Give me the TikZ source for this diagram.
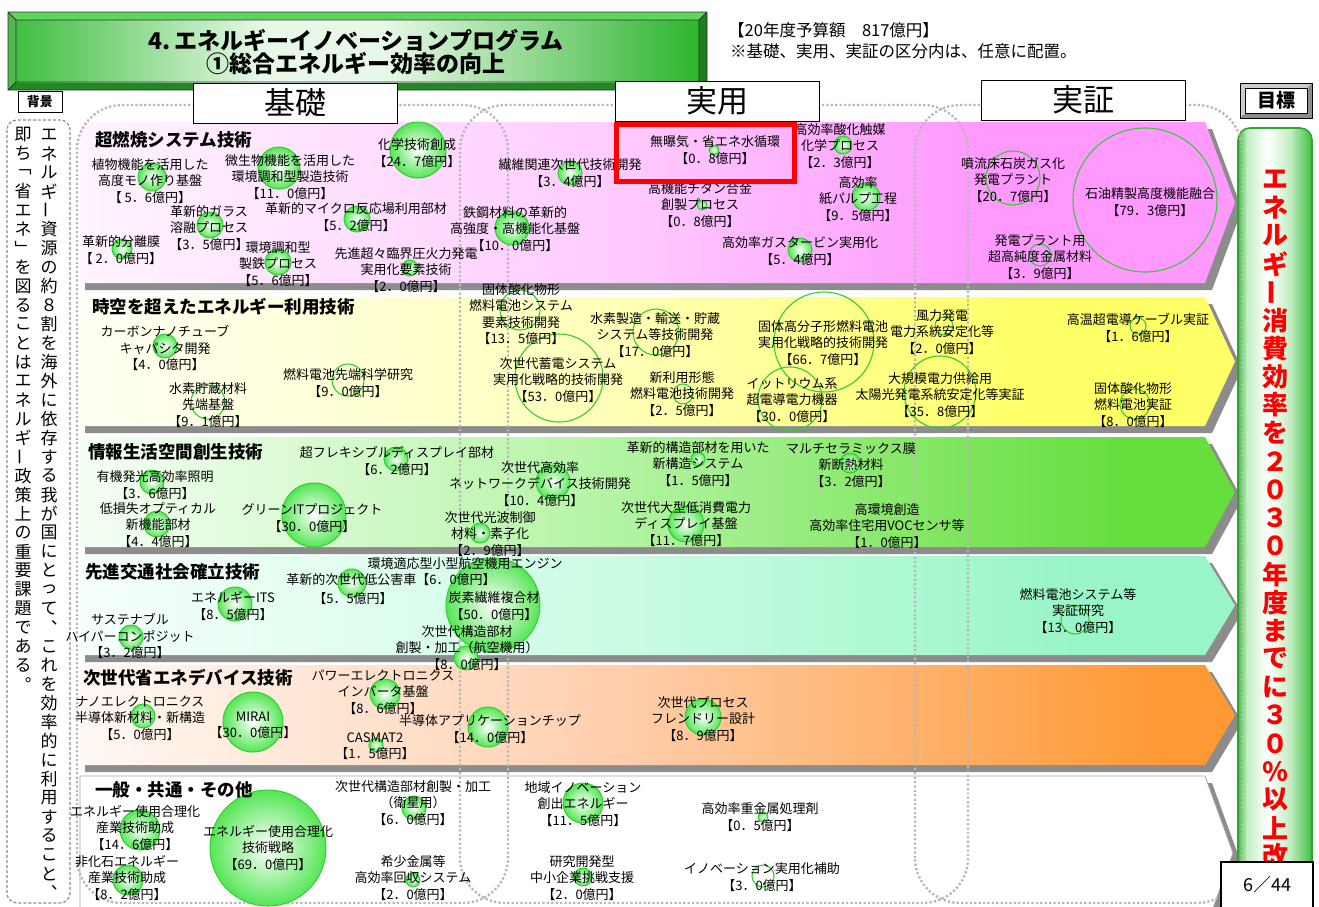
\documentclass[tikz,border=0pt]{standalone}
\usepackage{fontspec}
\setmainfont{Noto Sans CJK JP}
\definecolor{pk0}{HTML}{FFF4FF}\definecolor{pk1}{HTML}{FFCCFF}\definecolor{pk2}{HTML}{FF99FF}
\definecolor{ye0}{HTML}{FFFFF4}\definecolor{ye1}{HTML}{FFFFB8}\definecolor{ye2}{HTML}{FFFF66}
\definecolor{gr0}{HTML}{F4FFF4}\definecolor{gr1}{HTML}{B4F4A4}\definecolor{gr2}{HTML}{66DE3E}
\definecolor{mn0}{HTML}{F6FFFB}\definecolor{mn1}{HTML}{CCFCE4}\definecolor{mn2}{HTML}{99F5C8}
\definecolor{or0}{HTML}{FFF8F4}\definecolor{or1}{HTML}{FFCFAE}\definecolor{or2}{HTML}{FF9933}
\definecolor{tg1}{HTML}{3FBF3F}\definecolor{tg2}{HTML}{E8F8E8}\definecolor{tg3}{HTML}{2DB52D}
\definecolor{tgT}{HTML}{5ED65E}\definecolor{tgD}{HTML}{1E7E1E}
\definecolor{gl1}{HTML}{3CC03C}\definecolor{gl2}{HTML}{C4EEC4}
\definecolor{bubF}{HTML}{55E655}\definecolor{bubD}{HTML}{33CC33}
\pgfdeclarehorizontalshading{pinkS}{100bp}{color(0bp)=(pk0); color(25bp)=(pk0); color(48bp)=(pk1); color(64bp)=(pk2); color(100bp)=(pk2)}
\pgfdeclarehorizontalshading{yelS}{100bp}{color(0bp)=(ye0); color(25bp)=(ye0); color(48bp)=(ye1); color(66bp)=(ye2); color(100bp)=(ye2)}
\pgfdeclarehorizontalshading{grnS}{100bp}{color(0bp)=(gr0); color(25bp)=(gr0); color(48bp)=(gr1); color(70bp)=(gr2); color(100bp)=(gr2)}
\pgfdeclarehorizontalshading{mntS}{100bp}{color(0bp)=(mn0); color(25bp)=(mn0); color(48bp)=(mn1); color(68bp)=(mn2); color(100bp)=(mn2)}
\pgfdeclarehorizontalshading{orgS}{100bp}{color(0bp)=(or0); color(25bp)=(or0); color(48bp)=(or1); color(72bp)=(or2); color(100bp)=(or2)}
\pgfdeclarehorizontalshading{titleS}{100bp}{color(0bp)=(tg1); color(25bp)=(tg1); color(43bp)=(tg2); color(52bp)=(tg2); color(75bp)=(tg3); color(100bp)=(tg3)}
\pgfdeclarehorizontalshading{goalS}{100bp}{color(0bp)=(gl1); color(25bp)=(gl1); color(31bp)=(gl2); color(45bp)=(white); color(60bp)=(gl2); color(75bp)=(gl1); color(100bp)=(gl1)}
\newlength\vtw \newlength\vth
\makeatletter
\def\vtxt#1{\vbox{\offinterlineskip\vtx@#1\vtx@end}}
\def\vtx@#1{\ifx#1\vtx@end\else\vbox to\vth{\vss\hbox to\vtw{\hss#1\hss}\vss}\expandafter\vtx@\fi}
\makeatother
\newcommand\vlong{\rotatebox[origin=c]{90}{ー}}
\tikzset{
 lbl/.style={align=center, font=\fontsize{13}{16.3}\selectfont, inner sep=0pt},
 hd/.style={anchor=west, font=\fontsize{17.5}{19}\selectfont\bfseries, inner sep=0pt},
 bubS/.style={circle, draw=bubD, line width=1pt, inner sep=0pt, shading=radial, inner color=white, outer color=bubF},
 ringS/.style={circle, draw=bubD, line width=1.1pt, inner sep=0pt},
 shd/.style={fill=black!45},
 colline/.style={draw=black!28, line width=2.4pt, dash pattern=on 2.2pt off 2.2pt},
 hbx/.style={draw=black, line width=1pt, fill=white, minimum width=204pt, minimum height=40pt, inner sep=0pt, font=\fontsize{31}{32}\selectfont},
}
\newcommand\mkband[3]{%
 \fill[shd] (85,{#1+7}) -- (1212,{#1+7}) -- (1242,{(#1+#2)/2+7}) -- (1212,{#2+7}) -- (85,{#2+7}) -- cycle;
 \shade[shading=#3] (80,#1) -- (1205,#1) -- (1235,{(#1+#2)/2}) -- (1205,#2) -- (80,#2) -- cycle;}
\newcommand\Bub[4]{\node[bubS,minimum size=#4] (#1) at (#2,#3) {};}
\newcommand\Ring[4]{\node[ringS,minimum size=#4] (#1) at (#2,#3) {};}
\newcommand\Lb[4]{\node[lbl] (#1) at (#2,#3) {#4};}
\begin{document}
\begin{tikzpicture}[x=1pt,y=-1pt]
\useasboundingbox (0,0) rectangle (1319,906);
\clip (0,0) rectangle (1319,906);
\fill[white] (0,0) rectangle (1319,906);
% title
\fill[tg3] (8,12) rectangle (707,90);
\fill[tgT] (8,12) -- (707,12) -- (699,20) -- (16,20) -- cycle;
\fill[tgT!85!black] (8,12) -- (16,20) -- (16,82) -- (8,90) -- cycle;
\fill[tgD!80!tg3] (8,90) -- (16,82) -- (699,82) -- (707,90) -- cycle;
\fill[tgD] (707,12) -- (707,90) -- (699,82) -- (699,20) -- cycle;
\shade[shading=titleS] (16,20) rectangle (699,82);
\draw[black!80, line width=0.8pt] (8,12) rectangle (707,90) (16,20) rectangle (699,82)
 (8,12) -- (16,20) (707,12) -- (699,20) (8,90) -- (16,82) (707,90) -- (699,82);
\node[font=\fontsize{23}{25}\selectfont\bfseries, inner sep=0] (t1) at (356,41) {4.\,エネルギーイノベーションプログラム};
\node[font=\fontsize{23}{25}\selectfont\bfseries, inner sep=0] (t2) at (356,64) {①総合エネルギー効率の向上};
\node[anchor=west, font=\fontsize{16.5}{18}\selectfont, inner sep=0] (budget) at (728,30) {【20年度予算額　817億円】};
\node[anchor=west, font=\fontsize{16.5}{18}\selectfont, inner sep=0] (note) at (730,51) {※基礎、実用、実証の区分内は、任意に配置。};
% bands
\mkband{122}{283}{pinkS}
\mkband{297}{426}{yelS}
\mkband{437}{547}{grnS}
\mkband{556}{655}{mntS}
\mkband{665}{765}{orgS}
\fill[shd] (85,783) -- (1212,783) -- (1240,860) -- (1212,940) -- (85,940) -- cycle;
\filldraw[fill=white, draw=black!35, line width=0.8pt] (80,776) -- (1205,776) -- (1233,853) -- (1205,930) -- (80,930) -- cycle;
% goal box
\shade[shading=goalS, rounded corners=12pt] (1238,128) rectangle (1312,940);
\draw[draw=gl1!85!black, line width=1.6pt, rounded corners=12pt] (1238,128) rectangle (1312,940);
% columns
\draw[colline, rounded corners=45pt] (77,903) rectangle (508,105);
\draw[colline, rounded corners=45pt] (460,903) rectangle (968,105);
\draw[colline, rounded corners=45pt] (915,903) rectangle (1242,105);
% headers
\node[hbx] (kiso) at (295,103) {基礎};
\node[hbx] (jitsuyo) at (717,101) {実用};
\node[hbx] (jissho) at (1083,100) {実証};
\fill[black!45] (1240,83) rectangle (1312,118);
\fill[black!20] (1240,83) -- (1312,83) -- (1307,88) -- (1245,88) -- (1245,113) -- (1240,118) -- cycle;
\node[draw=black, line width=1pt, fill=white, minimum width=62pt, minimum height=25pt, inner sep=0, font=\fontsize{19}{20}\selectfont\bfseries] (mokuhyo) at (1276,100.5) {目標};
\draw[black, line width=0.6pt] (1240,83) rectangle (1312,118);
\node[draw=black, line width=1pt, fill=white, minimum width=44pt, minimum height=21pt, inner sep=0, font=\fontsize{13}{13}\selectfont\bfseries] (haikei) at (40,102) {背景};
% background box
\draw[draw=black!45, line width=1.2pt, dash pattern=on 3pt off 2pt, rounded corners=10pt] (7,120) rectangle (70,903);
\node[anchor=north, inner sep=0, font=\fontsize{17}{17}\selectfont] (bgR) at (49,125) {\setlength\vtw{18pt}\setlength\vth{18.95pt}\vtxt{エネルギ\vlong 資源の約８割を海外に依存する我が国にとって︑これを効率的に利用すること︑}};
\node[anchor=north, inner sep=0, font=\fontsize{17}{17}\selectfont] (bgL) at (23,125) {\setlength\vtw{18pt}\setlength\vth{18.95pt}\vtxt{即ち﹁省エネ﹂を図ることはエネルギ\vlong 政策上の重要課題である︒}};
% goal text
\node[anchor=north, inner sep=0, text=red, font=\fontsize{26}{26}\selectfont\bfseries] (goalt) at (1275,165) {\setlength\vtw{30pt}\setlength\vth{28.2pt}\vtxt{エネルギ\vlong 消費効率を２０３０年度までに３０％以上改}};
% circles band1
\Bub{c11}{152}{177}{28}
\Bub{c12}{279}{168}{42}
\Bub{c13}{418}{150}{56}
\Bub{c14}{210}{225}{26}
\Bub{c15}{122}{249}{20}
\Bub{c16}{357}{219}{26}
\Bub{c17}{278}{262}{26}
\Bub{c18}{410}{268}{16}
\Bub{c19}{512}{228}{34}
\Bub{c110}{570}{173}{24}
\Bub{c111}{714}{150}{10}
\Bub{c112}{702}{205}{10}
\Bub{c113}{843}{145}{18}
\Bub{c114}{866}{197}{28}
\Bub{c115}{800}{250}{24}
\Ring{c116}{1013}{178}{54}
\Ring{c117}{1145}{200}{144}
\Ring{c118}{1040}{255}{22}
% band2
\Bub{c21}{165}{346}{24}
\Ring{c22}{208}{402}{34}
\Ring{c23}{348}{380}{32}
\Ring{c24}{520}{310}{40}
\Ring{c25}{559}{378}{88}
\Ring{c26}{656}{332}{46}
\Ring{c27}{683}{394}{20}
\Ring{c28}{824}{342}{100}
\Ring{c29}{790}{399}{64}
\Ring{c210}{944}{326}{18}
\Ring{c211}{940}{392}{72}
\Ring{c212}{1138}{326}{16}
\Ring{c213}{1135}{404}{30}
% band3
\Bub{c31}{396}{459}{24}
\Bub{c32}{152}{482}{24}
\Bub{c33}{157}{524}{26}
\Bub{c34}{314}{515}{64}
\Bub{c35}{553}{482}{34}
\Bub{c36}{480}{533}{20}
\Bub{c37}{698}{459}{14}
\Bub{c38}{686}{524}{36}
\Bub{c39}{850}{463}{20}
% band4
\Bub{c41}{352}{583}{28}
\Bub{c42}{235}{604}{34}
\Bub{c43}{493}{605}{94}
\Bub{c44}{131}{637}{24}
\Bub{c45}{466}{658}{24}
\Ring{c46}{1075}{620}{28}
% band5
\Bub{c51}{385}{694}{30}
\Bub{c52}{143}{716}{24}
\Bub{c53}{253}{722}{60}
\Bub{c54}{376}{745}{14}
\Bub{c55}{488}{727}{40}
\Bub{c56}{703}{717}{36}
% band6
\Bub{c61}{140}{830}{40}
\Bub{c62}{268}{848}{116}
\Bub{c63}{128}{880}{30}
\Bub{c64}{414}{808}{24}
\Bub{c65}{413}{880}{14}
\Bub{c66}{583}{803}{40}
\Bub{c67}{583}{877}{18}
\Bub{c68}{763}{817}{10}
\Ring{c69}{763}{876}{22}
% headings
\node[hd] (h1) at (95,140) {超燃焼システム技術};
\node[hd] (h2) at (92,307) {時空を超えたエネルギー利用技術};
\node[hd] (h3) at (88,452) {情報生活空間創生技術};
\node[hd] (h4) at (85,572) {先進交通社会確立技術};
\node[hd] (h5) at (83,678) {次世代省エネデバイス技術};
\node[hd] (h6) at (95,790) {一般・共通・その他};
% labels band1
\Lb{l11}{150}{181}{植物機能を活用した\\高度モノ作り基盤\\【 5．6億円】}
\Lb{l12}{290}{177}{微生物機能を活用した\\環境調和型製造技術\\【11．0億円】}
\Lb{l13}{417}{153}{化学技術創成\\【24．7億円】}
\Lb{l14}{209}{228}{革新的ガラス\\溶融プロセス\\【3．5億円】}
\Lb{l15}{121}{250}{革新的分離膜\\【 2．0億円】}
\Lb{l16}{356}{217}{革新的マイクロ反応場利用部材\\【5．2億円】}
\Lb{l17}{278}{264}{環境調和型\\製鉄プロセス\\【5．6億円】}
\Lb{l18}{406}{270}{先進超々臨界圧火力発電\\実用化要素技術\\【2．0億円】}
\Lb{l19}{515}{229}{鉄鋼材料の革新的\\高強度・高機能化基盤\\【10．0億円】}
\Lb{l110}{570}{173}{繊維関連次世代技術開発\\【3．4億円】}
\Lb{l111}{715}{150}{無曝気・省エネ水循環\\【0．8億円】}
\Lb{l112}{700}{205}{高機能チタン合金\\創製プロセス\\【0．8億円】}
\Lb{l113}{840}{146}{高効率酸化触媒\\化学プロセス\\【2．3億円】}
\Lb{l114}{858}{199}{高効率\\紙パルプ工程\\【9．5億円】}
\Lb{l115}{800}{251}{高効率ガスタービン実用化\\【5．4億円】}
\Lb{l116}{1013}{180}{噴流床石炭ガス化\\発電プラント\\【20．7億円】}
\Lb{l117}{1150}{202}{石油精製高度機能融合\\【79．3億円】}
\Lb{l118}{1040}{257}{発電プラント用\\超高純度金属材料\\【3．9億円】}
% band2
\Lb{l21}{165}{348}{カーボンナノチューブ\\キャパシタ開発\\【4．0億円】}
\Lb{l22}{208}{405}{水素貯蔵材料\\先端基盤\\【9．1億円】}
\Lb{l23}{348}{383}{燃料電池先端科学研究\\【9．0億円】}
\Lb{l24}{521}{314}{固体酸化物形\\燃料電池システム\\要素技術開発\\【13．5億円】}
\Lb{l25}{558}{380}{次世代蓄電システム\\実用化戦略的技術開発\\【53．0億円】}
\Lb{l26}{655}{335}{水素製造・輸送・貯蔵\\システム等技術開発\\【17．0億円】}
\Lb{l27}{682}{394}{新利用形態\\燃料電池技術開発\\【2．5億円】}
\Lb{l28}{823}{343}{固体高分子形燃料電池\\実用化戦略的技術開発\\【66．7億円】}
\Lb{l29}{792}{400}{イットリウム系\\超電導電力機器\\【30．0億円】}
\Lb{l210}{942}{332}{風力発電\\電力系統安定化等\\【2．0億円】}
\Lb{l211}{940}{395}{大規模電力供給用\\太陽光発電系統安定化等実証\\【35．8億円】}
\Lb{l212}{1138}{328}{高温超電導ケーブル実証\\【1．6億円】}
\Lb{l213}{1133}{405}{固体酸化物形\\燃料電池実証\\【8．0億円】}
% band3
\Lb{l31}{397}{461}{超フレキシブルディスプレイ部材\\【6．2億円】}
\Lb{l32}{155}{485}{有機発光高効率照明\\【3．6億円】}
\Lb{l33}{158}{525}{低損失オプティカル\\新機能部材\\【4．4億円】}
\Lb{l34}{312}{518}{グリーンITプロジェクト\\【30．0億円】}
\Lb{l35}{540}{484}{次世代高効率\\ネットワークデバイス技術開発\\【10．4億円】}
\Lb{l36}{490}{534}{次世代光波制御\\材料・素子化\\【2．9億円】}
\Lb{l37}{698}{464}{革新的構造部材を用いた\\新構造システム\\【1．5億円】}
\Lb{l38}{686}{524}{次世代大型低消費電力\\ディスプレイ基盤\\【11．7億円】}
\Lb{l39}{851}{465}{マルチセラミックス膜\\新断熱材料\\【3．2億円】}
\Lb{l310}{887}{526}{高環境創造\\高効率住宅用VOCセンサ等\\【1．0億円】}
% band4
\Lb{l41}{465}{564}{環境適応型小型航空機用エンジン}
\Lb{l42}{391}{580}{革新的次世代低公害車【6．0億円】}
\Lb{l43}{353}{599}{【5．5億円】}
\Lb{l44}{233}{606}{エネルギーITS\\【8．5億円】}
\Lb{l45}{494}{606}{炭素繊維複合材\\【50．0億円】}
\Lb{l46}{130}{636}{サステナブル\\ハイパーコンポジット\\【3．2億円】}
\Lb{l47}{467}{648}{次世代構造部材\\創製・加工（航空機用）\\【8．0億円】}
\Lb{l48}{1078}{611}{燃料電池システム等\\実証研究\\【13．0億円】}
% band5
\Lb{l51}{383}{692}{パワーエレクトロニクス\\インバータ基盤\\【8．6億円】}
\Lb{l52}{140}{718}{ナノエレクトロニクス\\半導体新材料・新構造\\【5．0億円】}
\Lb{l53}{253}{725}{MIRAI\\【30．0億円】}
\Lb{l54}{375}{746}{CASMAT2\\【1．5億円】}
\Lb{l55}{490}{729}{半導体アプリケーションチップ\\【14．0億円】}
\Lb{l56}{703}{719}{次世代プロセス\\フレンドリー設計\\【8．9億円】}
% band6
\Lb{l61}{135}{828}{エネルギー使用合理化\\産業技術助成\\【14．6億円】}
\Lb{l62}{268}{848}{エネルギー使用合理化\\技術戦略\\【69．0億円】}
\Lb{l63}{127}{878}{非化石エネルギー\\産業技術助成\\【8．2億円】}
\Lb{l64}{413}{803}{次世代構造部材創製・加工\\（衛星用）\\【6．0億円】}
\Lb{l65}{413}{878}{希少金属等\\高効率回収システム\\【2．0億円】}
\Lb{l66}{583}{804}{地域イノベーション\\創出エネルギー\\【11．5億円】}
\Lb{l67}{582}{878}{研究開発型\\中小企業挑戦支援\\【2．0億円】}
\Lb{l68}{760}{817}{高効率重金属処理剤\\【0．5億円】}
\Lb{l69}{762}{877}{イノベーション実用化補助\\【3．0億円】}
% red highlight
\draw[red, line width=5pt] (616,124) rectangle (794,181);
% page
\node[draw=black, line width=1.2pt, fill=white, minimum width=92pt, minimum height=46pt, inner sep=0, font=\fontsize{18}{20}\selectfont] (pg) at (1267,885) {6／44};
\end{tikzpicture}
\end{document}
